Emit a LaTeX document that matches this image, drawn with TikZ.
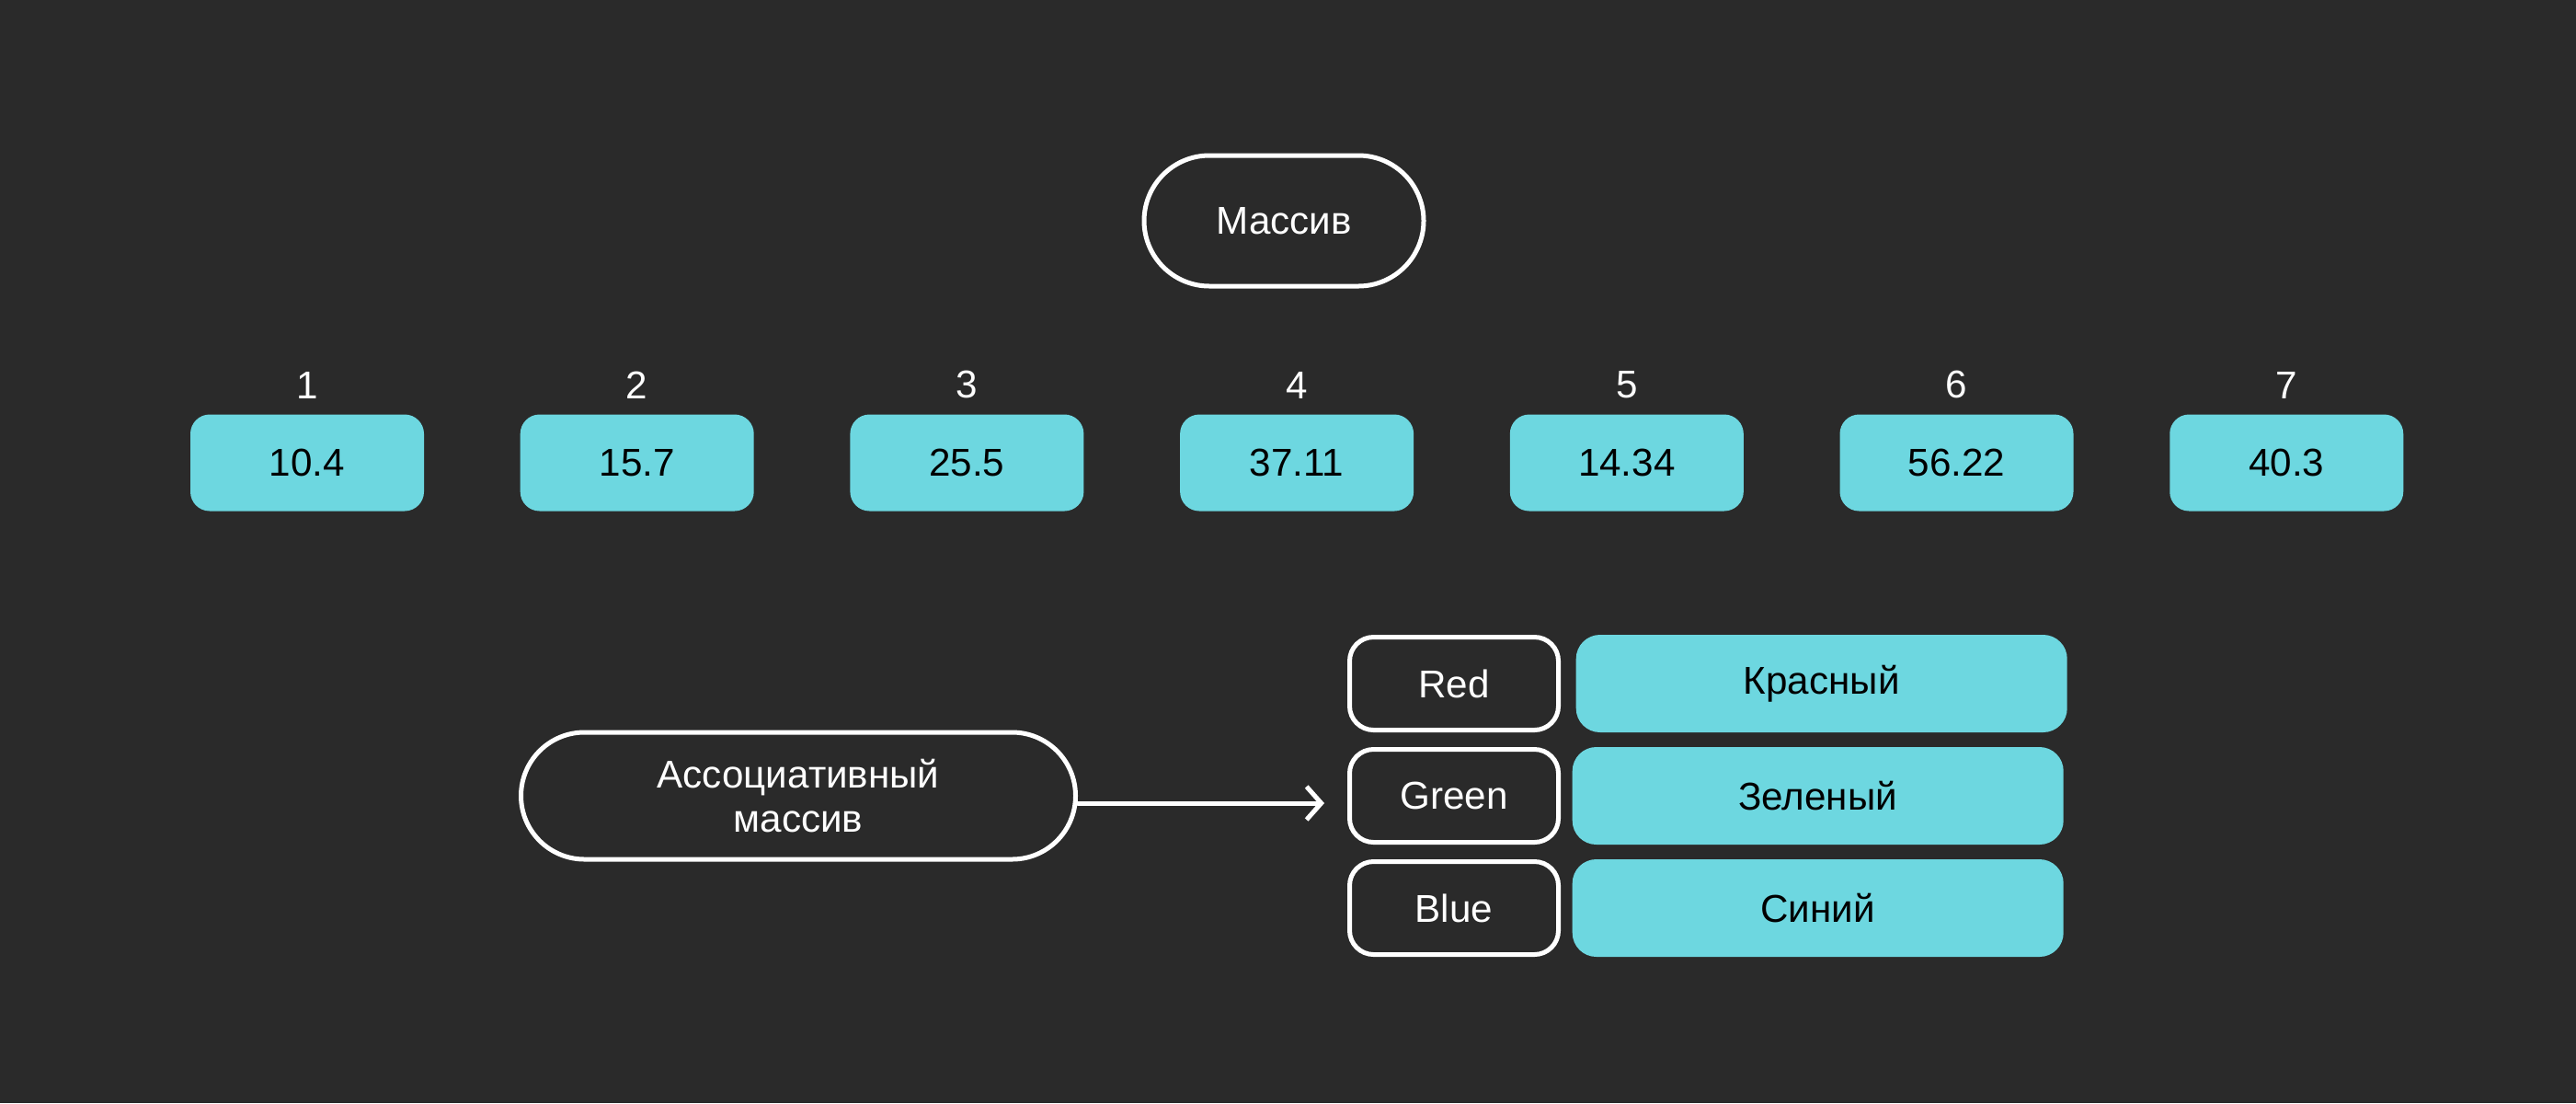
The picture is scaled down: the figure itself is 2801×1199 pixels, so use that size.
\documentclass[tikz,border=0pt]{standalone}
\usepackage{fontspec}
\setmainfont{Liberation Sans}
\usetikzlibrary{arrows.meta,positioning}
\definecolor{bgdark}{HTML}{2A2A2A}
\definecolor{cellcyan}{HTML}{6DD7E0}

\begin{document}
\begin{tikzpicture}[
  x=0.1mm, y=-0.1mm,
  font=\fontsize{12}{13.7}\selectfont, >={Straight Barb[length=1.6mm,width=3.6mm]},
  pill/.style={rectangle, draw=white, line width=0.5mm, text=white, align=center, inner sep=0},
  cell/.style={rectangle, rounded corners=2.1mm, fill=cellcyan, text=black, minimum width=25.4mm, minimum height=10.5mm, inner sep=0},
  idx/.style={text=white, inner sep=0},
  keybox/.style={rectangle, rounded corners=2.6mm, draw=white, line width=0.5mm, text=white, minimum width=22.7mm, minimum height=10.1mm, inner sep=0},
  valbox/.style={rectangle, rounded corners=2.6mm, fill=cellcyan, text=black, minimum width=53.4mm, minimum height=10.6mm, inner sep=0},
]

% background, also fixes the page size
\fill[bgdark] (0,0) rectangle (2801,1199);

% plain array: title, then the seven cells in one row
\node[pill, rounded corners=7.1mm, minimum width=30.4mm, minimum height=14.2mm] (arr) at (1396,240) {Массив};

\node[cell] (c1) at (334,503) {10.4};
\node[cell, right=10.33mm of c1] (c2) {15.7};
\node[cell, right=10.33mm of c2] (c3) {25.5};
\node[cell, right=10.33mm of c3] (c4) {37.11};
\node[cell, right=10.33mm of c4] (c5) {14.34};
\node[cell, right=10.33mm of c5] (c6) {56.22};
\node[cell, right=10.33mm of c6] (c7) {40.3};

% indices over the cells
\node[idx, above=1.6mm of c1] (i1) {1};
\node[idx, above=1.6mm of c2] (i2) {2};
\node[idx, above=1.6mm of c3] (i3) {3};
\node[idx, above=1.6mm of c4] (i4) {4};
\node[idx, above=1.6mm of c5] (i5) {5};
\node[idx, above=1.6mm of c6] (i6) {6};
\node[idx, above=1.6mm of c7] (i7) {7};

% associative array: keys on the left, values beside them
\node[pill, rounded corners=6.9mm, minimum width=60.3mm, minimum height=13.8mm] (assoc) at (868,865) {Ассоциативный\\массив};

\node[keybox] (green) at (1581,865) {Green};
\node[keybox, above=1.6mm of green] (red) {Red};
\node[keybox, below=1.6mm of green] (blue) {Blue};

\node[valbox, right=1.6mm of red] (redval) {Красный};
\node[valbox, right=1.2mm of green] (greenval) {Зеленый};
\node[valbox, right=1.2mm of blue] (blueval) {Синий};

\draw[->, white, line width=0.5mm, line cap=round] ([yshift=-0.8mm]assoc.east) -- ([yshift=-0.8mm, xshift=-2.5mm]green.west);

\end{tikzpicture}
\end{document}
